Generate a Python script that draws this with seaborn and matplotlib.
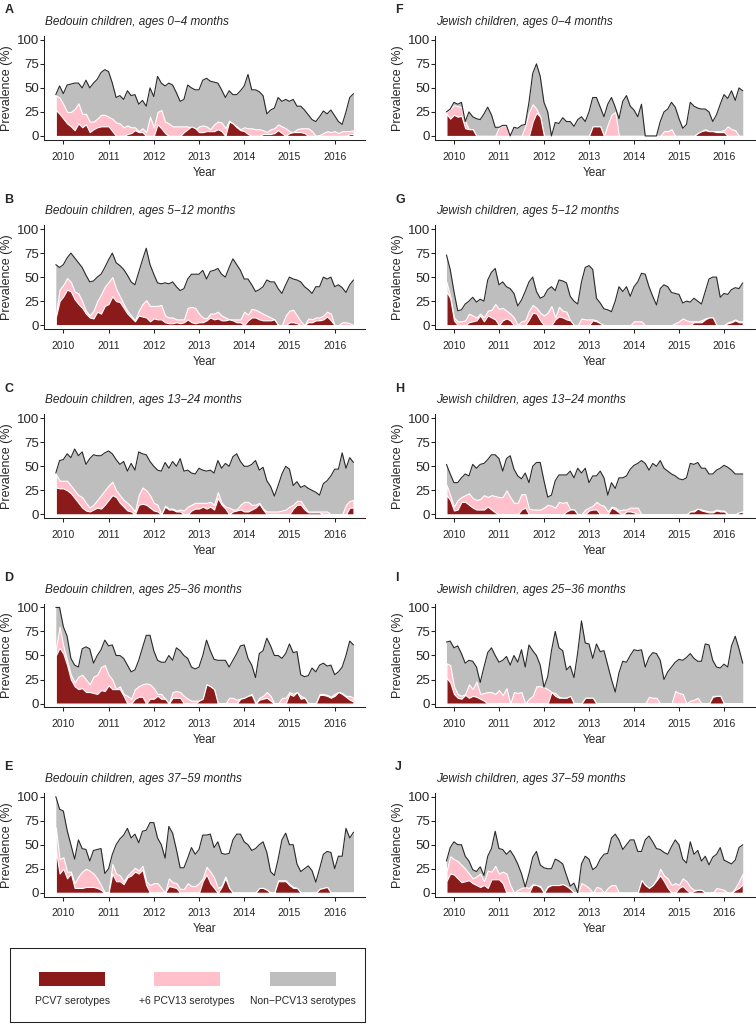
import numpy as np
import pandas as pd
import matplotlib
matplotlib.use("Agg")
import matplotlib.pyplot as plt
import seaborn as sns
from matplotlib.patches import Rectangle

# monthly samples, Nov 2009 - Jun 2016
months = pd.date_range("2009-11-01", "2016-06-01", freq="MS")
year_ticks = [2010, 2011, 2012, 2013, 2014, 2015, 2016]
prev_ticks = [0, 25, 50, 75, 100]

# prevalence (%) per month: any carriage, PCV13 types (incl. PCV7), PCV7 types
bed_0_4_all = [43,52,44,53,54,55,55,50,58,50,55,59,66,69,67,55,40,42,38,47,
               42,43,33,37,31,50,41,62,55,52,55,53,45,36,38,53,50,48,48,58,
               60,57,56,55,48,40,47,43,43,47,52,64,48,48,46,42,23,27,29,40,
               36,38,36,38,31,31,27,22,17,15,20,26,23,27,21,15,12,25,40,44]
bed_0_4_pcv13 = [42,40,33,25,25,28,34,23,23,15,15,18,22,22,20,18,14,13,9,11,
                 9,9,5,8,4,20,9,25,27,15,13,10,10,10,10,10,8,6,10,11,
                 10,7,12,15,14,8,16,13,10,7,9,8,8,7,7,6,4,7,8,12,
                 10,8,5,4,7,8,8,8,5,0,1,3,5,4,5,3,5,5,5,6]
bed_0_4_pcv7 = [27,23,18,13,10,6,13,9,12,4,7,9,10,10,10,5,0,0,0,2,
                3,6,4,4,0,0,0,12,8,3,0,0,0,0,4,7,10,8,4,4,
                5,5,5,7,5,0,15,13,9,6,5,2,0,0,0,2,2,2,3,6,
                3,0,3,4,4,4,3,0,0,0,0,0,0,0,0,0,0,0,2,2]

jew_0_4_all = [25,28,35,33,35,15,25,20,18,17,23,30,22,9,9,11,11,0,9,8,
               11,12,35,65,75,62,35,25,0,14,13,19,15,15,10,17,20,15,25,40,
               40,30,20,33,40,30,18,36,42,31,27,20,33,0,0,0,0,15,25,28,
               35,30,18,8,12,35,31,29,28,28,25,15,22,33,43,39,47,37,50,47]
jew_0_4_pcv13 = [25,28,32,31,30,15,7,7,0,0,0,0,0,0,9,11,11,0,0,0,
                 0,10,25,33,28,20,0,0,0,0,0,0,0,0,0,0,0,0,0,10,
                 10,10,0,12,22,25,0,0,0,0,0,0,0,0,0,0,0,0,5,5,
                 7,0,0,0,0,0,0,3,5,7,5,5,5,5,6,10,7,6,0,0]
jew_0_4_pcv7 = [23,18,22,20,21,8,7,7,0,0,0,0,0,0,0,0,0,0,0,0,
                0,0,0,15,24,20,0,0,0,0,0,0,0,0,0,0,0,0,0,10,
                10,10,0,0,0,0,0,0,0,0,0,0,0,0,0,0,0,0,0,0,
                0,0,0,0,0,0,0,3,5,6,5,5,4,4,4,0,0,0,0,0]

bed_5_12_all = [63,60,63,70,75,70,65,60,52,45,46,50,53,60,68,75,65,62,58,52,
                45,42,55,68,80,63,53,44,43,44,43,45,40,36,38,48,53,53,53,57,
                48,56,57,59,53,50,60,69,63,57,48,48,42,35,37,40,47,45,45,38,
                33,42,50,48,47,45,40,37,33,40,40,50,48,50,40,42,39,34,42,47]
bed_5_12_pcv13 = [10,37,42,49,45,35,33,25,15,10,15,25,32,40,45,50,38,30,22,15,
                  10,5,15,22,26,20,20,20,21,10,8,8,6,6,6,18,19,18,12,8,
                  7,12,12,14,10,8,6,6,6,6,14,11,17,16,14,12,10,8,6,0,
                  0,10,15,16,10,4,0,7,6,8,8,10,14,12,0,0,3,3,2,0]
bed_5_12_pcv7 = [8,25,30,37,35,27,22,18,12,8,7,14,12,20,22,30,25,24,18,12,
                 8,4,10,9,8,4,7,6,6,3,2,2,3,2,3,6,3,2,3,3,
                 5,8,6,7,5,5,6,5,3,3,0,5,8,8,6,5,5,5,6,0,
                 0,0,3,3,2,0,0,3,3,5,5,6,9,5,0,0,0,0,0,0]

jew_5_12_all = [73,58,35,15,16,22,25,29,24,27,25,47,55,59,42,45,40,38,33,20,
                26,35,45,50,35,28,30,37,40,36,47,46,44,30,25,22,45,60,62,58,
                28,23,17,16,14,25,40,35,40,30,40,45,54,53,40,30,21,38,42,40,
                34,33,32,23,25,24,28,25,22,35,48,50,50,29,33,32,37,39,38,44]
jew_5_12_pcv13 = [45,30,8,4,4,5,12,10,8,12,8,15,16,22,17,18,15,12,8,0,
                  4,5,15,21,18,13,10,13,20,8,19,15,14,5,0,0,7,6,6,6,
                  5,2,0,0,0,0,0,0,0,0,4,4,4,0,0,0,0,0,0,0,
                  0,2,4,7,5,4,4,4,5,7,8,8,0,0,0,3,4,6,4,4]
jew_5_12_pcv7 = [35,28,5,0,0,0,3,4,5,10,4,10,8,6,0,5,7,5,0,0,
                 0,0,6,13,12,5,0,0,0,6,9,8,6,5,0,0,0,0,0,5,
                 4,2,0,0,0,0,0,0,0,0,0,0,0,0,0,0,0,0,0,0,
                 0,0,0,0,0,0,3,3,3,6,8,8,0,0,0,2,3,5,3,3]

bed_13_24_all = [43,56,57,63,59,68,61,65,52,58,62,61,61,64,66,63,57,52,55,45,
                 53,46,65,63,62,55,50,46,45,54,48,55,50,58,45,46,43,42,48,46,
                 45,46,43,56,48,53,50,60,63,55,50,50,52,56,46,49,35,29,19,30,
                 42,50,47,30,34,28,30,27,25,23,20,32,35,40,47,47,64,48,59,54]
bed_13_24_pcv13 = [42,35,35,35,30,25,20,18,12,7,10,15,20,25,30,34,25,20,15,12,
                   8,3,20,28,25,20,12,10,0,9,6,6,4,5,4,8,10,12,12,12,
                   12,13,10,23,12,8,7,5,5,10,13,13,10,10,12,6,3,3,3,3,
                   4,5,8,10,14,14,8,3,3,3,3,3,3,0,0,0,0,10,14,15]
bed_13_24_pcv7 = [28,27,27,25,22,17,12,7,4,3,5,7,6,10,15,20,18,12,8,4,
                  3,0,10,11,10,7,4,3,0,8,5,5,3,3,0,0,4,6,6,8,
                  6,8,5,17,10,6,0,3,4,5,3,3,5,7,11,5,0,0,0,0,
                  0,0,0,6,10,10,5,2,2,2,2,0,0,0,0,0,0,0,7,7]

jew_13_24_all = [52,42,33,33,38,42,40,52,48,52,53,57,62,62,58,45,58,61,47,40,
                 37,43,33,50,54,54,35,18,20,35,41,41,41,45,38,48,43,48,33,40,
                 40,45,38,20,33,27,38,38,40,47,51,53,56,53,46,53,50,56,48,45,
                 42,40,37,36,38,53,52,54,48,48,42,42,46,48,51,49,46,42,42,42]
jew_13_24_pcv13 = [31,20,8,15,18,20,22,17,15,16,20,18,20,19,18,18,25,18,12,12,
                   21,21,6,5,5,5,7,10,9,7,13,12,13,5,5,0,0,5,7,9,
                   13,10,9,3,8,7,4,5,5,7,7,7,0,0,0,0,0,0,0,0,
                   0,0,0,0,0,3,4,6,5,4,3,3,5,4,4,0,0,0,2,3]
jew_13_24_pcv7 = [20,15,4,5,13,13,10,7,5,5,5,8,5,2,0,0,0,0,0,0,
                  5,7,0,0,0,0,0,0,0,0,0,0,3,5,5,0,0,0,4,5,
                  5,0,0,0,7,5,2,0,3,3,2,0,0,0,0,0,0,0,0,0,
                  0,0,0,0,0,3,3,6,4,3,2,2,4,3,3,0,0,0,2,3]

bed_25_36_all = [100,100,80,70,47,40,38,57,59,57,42,50,56,66,60,61,50,50,47,40,
                 33,35,45,58,71,71,55,45,43,43,50,45,58,55,50,47,38,36,38,50,
                 66,55,46,45,45,45,38,45,52,60,61,47,40,27,52,55,68,60,50,50,
                 47,52,62,53,54,30,28,29,37,33,40,42,39,40,30,33,38,50,65,61]
bed_25_36_pcv13 = [57,80,60,45,30,22,28,30,25,20,28,30,38,40,30,25,15,18,10,8,
                   5,15,18,20,21,20,16,10,10,5,0,12,13,12,8,5,3,3,3,5,
                   20,18,15,0,0,0,6,6,4,5,6,8,10,0,6,8,12,8,0,0,
                   6,6,12,10,12,8,6,0,0,0,10,10,9,7,10,12,11,8,8,6]
bed_25_36_pcv7 = [50,58,52,40,25,18,15,16,12,12,11,10,14,13,19,15,15,15,8,0,
                  0,5,7,7,0,5,5,8,5,5,0,6,6,6,0,0,0,0,3,5,
                  20,18,15,0,0,0,0,0,0,5,6,8,9,0,4,5,6,3,0,0,
                  0,0,10,8,12,5,6,0,0,0,9,9,8,6,8,12,10,7,4,2]

jew_25_36_all = [64,65,58,60,52,42,45,44,38,22,38,53,58,50,43,45,49,40,50,43,
                 56,38,61,55,50,40,17,28,55,75,58,55,35,39,27,53,86,63,62,47,
                 62,54,55,40,25,12,32,44,43,50,56,55,56,38,48,53,52,45,25,33,
                 38,43,46,45,48,52,47,44,44,62,61,45,38,37,41,38,60,70,57,42]
jew_25_36_pcv13 = [42,40,18,10,8,10,20,15,23,10,11,12,12,10,14,9,16,0,12,11,
                   12,0,5,8,18,18,17,15,12,11,7,6,6,8,0,0,0,6,6,6,
                   0,0,0,0,0,0,0,0,0,0,0,0,0,0,7,6,6,0,0,0,
                   0,13,11,10,0,3,4,6,0,0,0,8,8,8,0,0,0,0,0,0]
jew_25_36_pcv7 = [27,22,10,6,5,9,6,8,7,5,3,0,0,0,0,0,0,0,0,0,
                  0,0,0,0,0,0,0,0,12,8,6,6,6,8,0,0,0,6,6,6,
                  0,0,0,0,0,0,0,0,0,0,0,0,0,0,0,0,0,0,0,0,
                  0,0,0,0,0,0,0,0,0,0,0,7,8,8,0,0,0,0,0,0]

bed_37_59_all = [100,87,85,65,50,35,55,46,45,33,44,45,46,20,25,40,50,56,60,67,
                 57,61,52,64,65,73,73,57,50,36,69,62,45,26,26,36,47,40,45,60,
                 60,61,47,53,41,40,41,55,61,61,53,50,44,46,50,53,42,22,18,35,
                 55,62,50,50,30,22,25,28,23,11,25,40,43,42,25,38,38,67,57,63]
bed_37_59_pcv13 = [68,35,37,22,22,10,17,22,25,23,20,15,8,0,0,30,20,18,12,18,
                   22,26,23,28,12,8,10,10,5,0,15,11,10,4,4,10,7,7,10,15,
                   27,22,16,5,7,17,5,0,0,0,0,0,0,0,5,5,3,0,0,13,
                   13,13,9,6,5,0,0,0,0,0,4,5,6,0,0,0,0,0,0,0]
bed_37_59_pcv7 = [45,20,25,15,20,5,5,5,6,6,6,5,3,0,0,20,12,12,9,16,
                  18,22,20,24,8,0,0,0,0,0,7,6,5,0,0,0,0,0,0,12,
                  19,10,5,0,6,15,5,0,0,0,0,0,0,0,5,5,3,0,0,12,
                  12,12,8,5,5,0,0,0,0,0,4,5,6,0,0,0,0,0,0,0]

jew_37_59_all = [33,47,53,50,50,38,33,24,22,27,18,38,46,64,46,45,40,44,38,30,
                 20,6,20,37,43,29,26,25,25,35,33,30,18,7,10,0,30,38,35,24,
                 27,35,40,41,57,61,55,45,50,55,55,43,43,55,59,53,46,45,42,40,
                 48,55,50,35,31,53,40,44,33,38,29,37,40,47,34,32,30,34,47,50]
jew_37_59_pcv13 = [22,38,35,33,29,25,20,15,17,20,12,23,22,28,20,22,20,8,0,3,
                   5,6,5,9,8,7,0,7,8,8,8,9,7,4,0,0,10,8,5,0,
                   6,5,0,5,8,8,0,0,0,0,0,0,13,8,5,8,14,25,18,15,
                   8,10,8,15,12,6,3,3,3,0,0,0,5,4,3,0,0,5,12,20]
jew_37_59_pcv7 = [12,20,19,15,11,12,13,10,8,6,8,5,14,14,14,10,0,0,0,0,
                  0,0,0,8,8,6,0,6,8,8,8,9,7,4,0,0,0,0,0,0,
                  0,0,0,0,0,0,0,0,0,0,0,0,13,8,5,8,13,18,12,5,
                  0,0,5,7,3,0,2,3,3,0,0,0,0,0,0,0,0,3,5,9]

panels = [
    ("A", "Bedouin children, ages 0\u22124 months", bed_0_4_pcv7, bed_0_4_pcv13, bed_0_4_all),
    ("B", "Bedouin children, ages 5\u221212 months", bed_5_12_pcv7, bed_5_12_pcv13, bed_5_12_all),
    ("C", "Bedouin children, ages 13\u221224 months", bed_13_24_pcv7, bed_13_24_pcv13, bed_13_24_all),
    ("D", "Bedouin children, ages 25\u221236 months", bed_25_36_pcv7, bed_25_36_pcv13, bed_25_36_all),
    ("E", "Bedouin children, ages 37\u221259 months", bed_37_59_pcv7, bed_37_59_pcv13, bed_37_59_all),
    ("F", "Jewish children, ages 0\u22124 months", jew_0_4_pcv7, jew_0_4_pcv13, jew_0_4_all),
    ("G", "Jewish children, ages 5\u221212 months", jew_5_12_pcv7, jew_5_12_pcv13, jew_5_12_all),
    ("H", "Jewish children, ages 13\u221224 months", jew_13_24_pcv7, jew_13_24_pcv13, jew_13_24_all),
    ("I", "Jewish children, ages 25\u221236 months", jew_25_36_pcv7, jew_25_36_pcv13, jew_25_36_all),
    ("J", "Jewish children, ages 37\u221259 months", jew_37_59_pcv7, jew_37_59_pcv13, jew_37_59_all),
]

legend_labels = ["PCV7 serotypes", "+6 PCV13 serotypes", "Non\u2212PCV13 serotypes"]
col_red, col_pink, col_grey = "#8B1A1A", "#FFC0CB", "#BEBEBE"
ink = "#222222"

sns.set_style("ticks")
plt.rcParams["font.family"] = ["Liberation Sans", "DejaVu Sans"]

W, H = 756, 1026
fig = plt.figure(figsize=(W / 100, H / 100), dpi=100)

x = (months.year + (months.month - 1) / 12).to_numpy()

col_x = [(43.9, 365.4), (434.6, 754.6)]
row_step, top0, ax_h = 189.2, 36.0, 103.8

for k, (letter, title, pcv7, pcv13, total) in enumerate(panels):
    col, row = divmod(k, 5)
    x0, x1 = col_x[col]
    top = top0 + row * row_step
    ax = fig.add_axes([x0 / W, 1 - (top + ax_h) / H, (x1 - x0) / W, ax_h / H])

    ax.fill_between(x, 0, total, color=col_grey, lw=0)
    ax.fill_between(x, 0, pcv13, facecolor=col_pink, edgecolor="white", lw=0.8)
    ax.fill_between(x, 0, pcv7, facecolor=col_red, edgecolor="white", lw=0.8)
    sns.lineplot(x=x, y=np.array(total, dtype=float), ax=ax, color="#2a2a2a",
                 linewidth=0.8, legend=False)

    ax.set_xlim(2009.57, 2016.68)
    ax.set_ylim(-4, 104)
    ax.set_xticks(year_ticks)
    ax.set_yticks(prev_ticks)
    ax.set_xlabel("")
    ax.set_ylabel("")
    ax.tick_params(axis="x", labelsize=7.5, length=3, width=0.75, pad=5.5, color=ink)
    ax.tick_params(axis="y", labelsize=9.5, length=3, width=0.75, pad=0.5, color=ink)
    for s in ["top", "right"]:
        ax.spines[s].set_visible(False)
    for s in ["left", "bottom"]:
        ax.spines[s].set_linewidth(0.75)
        ax.spines[s].set_color(ink)

    fig.text((x0 - 39.5) / W, 1 - (top - 22.7) / H, letter, fontsize=9,
             fontweight="bold", ha="left", va="baseline")
    fig.text((x0 + 1) / W, 1 - (top - 11) / H, title, fontsize=8.5,
             style="italic", ha="left", va="baseline")
    fig.text((x0 - 36.4) / W, 1 - (top + ax_h / 2) / H, "Prevalence (%)",
             fontsize=9, rotation=90, ha="center", va="center")
    fig.text((x0 + x1) / 2 / W, 1 - (top + ax_h + 35.7) / H, "Year",
             fontsize=8.5, ha="center", va="baseline")

# legend box under the left column
lx0, lx1, ly0, ly1 = 9.6, 365.0, 948.0, 1022.0
lax = fig.add_axes([lx0 / W, 1 - ly1 / H, (lx1 - lx0) / W, (ly1 - ly0) / H])
lax.set_xlim(0, 1)
lax.set_ylim(0, 1)
lax.set_xticks([])
lax.set_yticks([])
for s in lax.spines.values():
    s.set_linewidth(0.75)
    s.set_color(ink)
for lab, c, cx in zip(legend_labels, [col_red, col_pink, col_grey], [0.176, 0.499, 0.826]):
    lax.add_patch(Rectangle((cx - 0.092, 0.49), 0.184, 0.19, facecolor=c, edgecolor="none"))
    lax.text(cx, 0.28, lab, fontsize=7.5, ha="center", va="center")

fig.savefig("out.png", dpi=100)
